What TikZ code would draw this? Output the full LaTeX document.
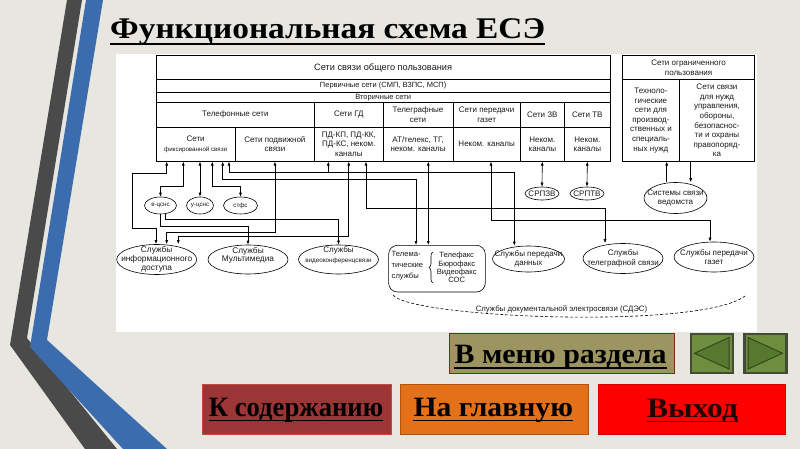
\documentclass[tikz,border=0pt]{standalone}
\usepackage{fontspec}
\usepackage{graphicx}
\setmainfont{Liberation Serif}
\newfontfamily\sans{Liberation Sans}
\usetikzlibrary{arrows.meta,shapes.geometric,decorations.pathreplacing,calc}
\definecolor{bg}{HTML}{E8E6E0}
\definecolor{stripegrey}{HTML}{4A4A4A}
\definecolor{stripeblue}{HTML}{3B6DAE}
\definecolor{txt}{HTML}{1A1A1A}
\definecolor{menuc}{HTML}{9C9461}
\definecolor{menub}{HTML}{7A2E16}
\definecolor{contc}{HTML}{9C3535}
\definecolor{contb}{HTML}{C44A3A}
\definecolor{homec}{HTML}{E2711A}
\definecolor{homeb}{HTML}{B5520E}
\definecolor{exitc}{HTML}{FE0000}
\definecolor{exitb}{HTML}{D00000}
\definecolor{navb}{HTML}{434B37}
\definecolor{navf}{HTML}{6E8E3E}
\definecolor{navt}{HTML}{57782F}
\definecolor{navtb}{HTML}{33471D}
\newcommand\cf{\sans\fontsize{8}{9.6}\selectfont}
\newcommand\tinyf{\sans\fontsize{6.2}{7}\selectfont}
\newcommand\cellbox[6]{\node[cell, minimum width={#4pt-#2pt}, minimum height={#5pt-#3pt}, anchor=north west] (#1) at (#2,#3) {#6};}
\newcommand\wfit[2]{\resizebox{#1}{\height}{#2}}
\begin{document}
\begin{tikzpicture}[x=1pt,y=-1pt,
  cell/.style={draw=black, line width=0.6pt, inner sep=0pt, align=center, font=\cf, text=txt},
  ell/.style={ellipse, draw=black, line width=0.6pt, inner sep=0pt},
  etext/.style={font=\cf, align=center, inner sep=0pt, text=txt},
  conn/.style={draw=black, line width=0.65pt},
  arr/.style={-{Latex[length=4pt,width=3pt]}},
  barr/.style={{Latex[length=4pt,width=3pt]}-{Latex[length=4pt,width=3pt]}},
  btxt/.style={font=\bfseries\fontsize{28}{28}\selectfont, inner sep=0pt, text=black},
  btn/.style={line width=1pt, inner sep=0pt, anchor=north west}
]
\useasboundingbox (0,0) rectangle (800,449);
\fill[bg] (0,0) rectangle (800,449);
% left stripes
\fill[stripegrey] (67,0) -- (82,0) -- (27,338) -- (117,449) -- (85,449) -- (10,345) -- cycle;
\fill[stripeblue] (86,0) -- (103,0) -- (47,340) -- (167,449) -- (123,449) -- (30,347) -- cycle;
% title
\node[anchor=base west, inner sep=0pt, font=\bfseries\fontsize{30}{30}\selectfont] (title) at (110,39) {\wfit{435pt}{Функциональная схема ЕСЭ}};
\draw[line width=2pt] ([yshift=-5.5pt]title.base west) -- ([yshift=-5.5pt]title.base east);
% white panel
\fill[white] (116,54.5) rectangle (757,331.5);
% main table
\cellbox{top}{155.7}{55.5}{610}{79.3}{\sans\fontsize{9.2}{10}\selectfont Сети связи общего пользования}
\cellbox{prim}{155.7}{79.3}{610}{91.7}{\sans\fontsize{7.5}{8}\selectfont Первичные сети (СМП, ВЗПС, МСП)}
\cellbox{sec}{155.7}{91.7}{610}{102.3}{\sans\fontsize{7.5}{8}\selectfont Вторичные сети}
\cellbox{tel}{155.7}{102.3}{314.3}{126.7}{Телефонные сети}
\cellbox{gd}{314.3}{102.3}{382.7}{126.7}{Сети ГД}
\cellbox{tg}{382.7}{102.3}{452.7}{126.7}{Телеграфные\\сети}
\cellbox{gaz}{452.7}{102.3}{520}{126.7}{Сети передачи\\газет}
\cellbox{zv}{520}{102.3}{564}{126.7}{Сети ЗВ}
\cellbox{tv}{564}{102.3}{610}{126.7}{Сети ТВ}
\cellbox{fix}{155.7}{126.7}{235}{161}{Сети\\{\tinyf фиксированной связи}}
\cellbox{mob}{235}{126.7}{314.3}{161}{Сети подвижной\\связи}
\cellbox{gdsub}{314.3}{126.7}{382.7}{161}{ПД-КП, ПД-КК,\\ПД-КС, неком.\\каналы}
\cellbox{tgsub}{382.7}{126.7}{452.7}{161}{АТ/телекс, ТГ,\\неком. каналы}
\cellbox{gazsub}{452.7}{126.7}{520}{161}{Неком. каналы}
\cellbox{zvsub}{520}{126.7}{564}{161}{Неком.\\каналы}
\cellbox{tvsub}{564}{126.7}{610}{161}{Неком.\\каналы}
% restricted table
\cellbox{rtop}{622.3}{55.5}{754.3}{79.3}{Сети ограниченного\\пользования}
\cellbox{rleft}{622.3}{79.3}{679}{161}{\sans\fontsize{8}{9.8}\selectfont Техноло-\\гические\\сети для\\производ-\\ственных и\\специаль-\\ных нужд}
\cellbox{rright}{679}{79.3}{754.3}{161}{\sans\fontsize{8}{9.8}\selectfont Сети связи\\для нужд\\управления,\\обороны,\\безопаснос-\\ти и охраны\\правопоряд-\\ка}
% small ellipses
\node[ell, minimum width=32pt, minimum height=17pt] (vcsns) at (160.5,205.5) {};
\node[etext, font=\tinyf] at (vcsns.center) {в-цснс};
\node[ell, minimum width=27pt, minimum height=17pt] (ucsns) at (200,205.5) {};
\node[etext, font=\tinyf] at (ucsns.center) {у-цснс};
\node[ell, minimum width=34pt, minimum height=17pt] (stfs) at (240.5,205.5) {};
\node[etext, font=\tinyf] at (stfs.center) {стфс};
\node[ell, minimum width=34pt, minimum height=13pt] (srpzv) at (542,193.5) {};
\node[etext] at (srpzv.center) {СРПЗВ};
\node[ell, minimum width=34pt, minimum height=13pt] (srptv) at (587,193.5) {};
\node[etext] at (srptv.center) {СРПТВ};
\node[ell, minimum width=63pt, minimum height=31pt] (ved) at (675.5,198) {};
\node[etext] at (ved.center) {Системы связи\\ведомста};
% service ellipses
\node[ell, minimum width=80pt, minimum height=30pt] (info) at (156.7,259.5) {};
\node[etext, font=\sans\fontsize{8.3}{9}\selectfont] at (info.center) {Службы\\информационного\\доступа};
\node[ell, minimum width=80pt, minimum height=29pt] (mm) at (248,259.5) {};
\node[etext, font=\sans\fontsize{8.3}{8.5}\selectfont] at ([yshift=4pt]mm.center) {Службы\\Мультимедиа};
\node[ell, minimum width=80pt, minimum height=29pt] (video) at (338.5,259.5) {};
\node[etext] at ([yshift=4pt]video.center) {Службы\\{\sans\fontsize{6.3}{7}\selectfont видеоконференцсвязи}};
\node[ell, minimum width=72pt, minimum height=26pt] (data) at (528.5,259) {};
\node[etext] at (data.center) {Службы передачи\\данных};
\node[ell, minimum width=80pt, minimum height=30pt] (tgserv) at (623,258.5) {};
\node[etext] at (tgserv.center) {Службы\\телеграфной связи};
\node[ell, minimum width=80pt, minimum height=30pt] (gazserv) at (714,257) {};
\node[etext] at (gazserv.center) {Службы передачи\\газет};
% telematic box
\node[draw=black, line width=0.6pt, rounded corners=9pt, minimum width=96.7pt, minimum height=46.7pt, anchor=north west, inner sep=0pt] (telem) at (388.3,245) {};
\node[etext, font=\sans\fontsize{7.6}{10.8}\selectfont, align=left, anchor=north west] at (391.5,251) {Телема-\\тические\\службы};
\draw[line width=0.6pt, decorate, decoration={brace, amplitude=4pt}] (433,283) -- (433,252);
\node[etext, font=\sans\fontsize{7.6}{8.4}\selectfont] at (456.7,267.5) {Телефакс\\Бюрофакс\\Видеофакс\\СОС};
% dashed SDES curve
\draw[line width=0.6pt, dash pattern=on 3pt off 2pt] (393,295) .. controls (410,318) and (700,330) .. (745,296);
\node[etext, font=\sans\fontsize{7.8}{8}\selectfont] at (561.5,309.5) {Службы документальной электросвязи (СДЭС)};
% connector anchors at table bottom
\coordinate (a1) at ([xshift=11pt]fix.south west);
\coordinate (a2) at ([xshift=27.6pt]fix.south west);
\coordinate (a3) at ([xshift=44.3pt]fix.south west);
\coordinate (a4) at ([xshift=56.6pt]fix.south west);
\coordinate (a5) at ([xshift=67pt]fix.south west);
\coordinate (a6) at ([xshift=73.3pt]fix.south west);
\coordinate (b1) at ([xshift=14pt]gdsub.south west);
\coordinate (b3) at ([xshift=51.7pt]gdsub.south west);
\coordinate (c1) at ([xshift=45.6pt]tgsub.south west);
\coordinate (d1) at ([xshift=38.3pt]gazsub.south west);
\coordinate (r1) at ([xshift=44.4pt]rleft.south west);
\coordinate (r2) at ([xshift=11.7pt]rright.south west);
% connectors
\draw[conn,barr] (a1) |- (132,173) |- (156,228) -- (156,0 |- info.north);
\draw[conn,barr] (a2) -- ++(0,25) -| (vcsns.north);
\draw[conn,barr] (a3) -- (ucsns.north);
\draw[conn,barr] (a4) -- ++(0,25) -| (stfs.north);
\draw[conn,barr] (a5) |- (416,179) -- (416,0 |- telem.north);
\draw[conn,barr] (a6) |- (514.3,172.3) -- (514.3,0 |- data.north);
\coordinate (j1) at (b1 |- 0,172.3);
\draw[conn,arr] (j1) -- (b1);
\draw[conn,barr] (mob.south) |- (166.7,232) -- (166.7,0 |- info.north);
\draw[conn,barr] (gdsub.south) |- (178.3,236) -- (178.3,0 |- info.north);
\draw[conn,barr] (b3) |- (605,208) -- (605,0 |- tgserv.north);
\draw[conn,barr] (c1) -- (c1 |- telem.north);
\draw[conn,barr] (d1) |- (710,220.7) -- (710,0 |- gazserv.north);
\draw[conn,barr] (zvsub.south) -- (srpzv.north);
\draw[conn,barr] (tvsub.south) -- (srptv.north);
\draw[conn,arr] (r1 |- ved.north) -- (r1);
\draw[conn,arr] (r2) -- (r2 |- ved.north);
\draw[conn,arr] ([xshift=5pt]vcsns.south) -- ++(0,5) -| (video.north);
\draw[conn,arr] (vcsns.south) -- ++(0,12.5) -| (mm.north);
% buttons
\node[btn, fill=menuc, draw=menub, minimum width=225.5pt, minimum height=40pt] (menu) at (448.8,333) {};
\node[btxt, anchor=base] (menuT) at (560.6,363.3) {\wfit{212pt}{В меню раздела}};
\draw[line width=1.8pt] ([yshift=-4.5pt]menuT.base west) -- ([yshift=-4.5pt]menuT.base east);
\node[btn, fill=navf, draw=navb, line width=2.5pt, minimum width=42pt, minimum height=39pt] (prev) at (689.5,332.5) {};
\filldraw[fill=navt, draw=navtb, line width=1pt] ($(prev.west)+(5,0)$) -- ($(prev.north east)+(-5,5)$) -- ($(prev.south east)+(-5,-5)$) -- cycle;
\node[btn, fill=navf, draw=navb, line width=2.5pt, minimum width=42pt, minimum height=39pt] (next) at (743,332.5) {};
\filldraw[fill=navt, draw=navtb, line width=1pt] ($(next.east)+(-5,0)$) -- ($(next.north west)+(5,5)$) -- ($(next.south west)+(5,-5)$) -- cycle;
\node[btn, fill=contc, draw=contb, minimum width=188.5pt, minimum height=50pt] (cont) at (202,384) {};
\node[btxt, anchor=base] (contT) at (296,416) {\wfit{174.5pt}{К содержанию}};
\draw[line width=1.8pt] ([yshift=-4.5pt]contT.base west) -- ([yshift=-4.5pt]contT.base east);
\node[btn, fill=homec, draw=homeb, minimum width=187.5pt, minimum height=50pt] (home) at (400.2,384) {};
\node[btxt, anchor=base] (homeT) at (493.2,416) {\wfit{159.4pt}{На главную}};
\draw[line width=1.8pt] ([yshift=-4.5pt]homeT.base west) -- ([yshift=-4.5pt]homeT.base east);
\node[btn, fill=exitc, draw=exitb, minimum width=187.3pt, minimum height=50pt] (exit) at (597.7,384) {};
\node[btxt, anchor=base, text=black!85!red] (exitT) at (692.5,417) {\wfit{91pt}{Выход}};
\draw[line width=1.8pt, black!85!red] ([yshift=-4.5pt]exitT.base west) -- ([yshift=-4.5pt]exitT.base east);
\end{tikzpicture}
\end{document}
